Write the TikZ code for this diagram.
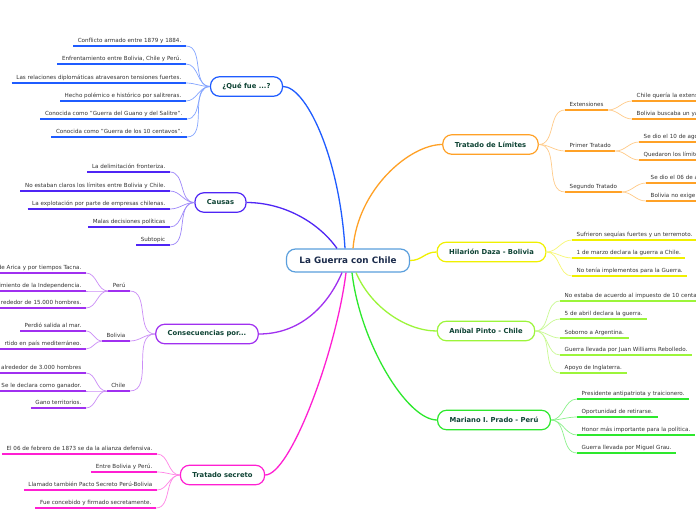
\documentclass[tikz,border=0pt]{standalone}
\usepackage{fontspec}
\setmainfont{DejaVu Sans}
\usetikzlibrary{positioning}

\definecolor{cMain}{HTML}{5A9FDD}
\definecolor{cQue}{HTML}{1F5CFF}
\definecolor{cCau}{HTML}{4F25F5}
\definecolor{cCon}{HTML}{A030F0}
\definecolor{cSec}{HTML}{FF1FD2}
\definecolor{cLim}{HTML}{FFA126}
\definecolor{cHil}{HTML}{F0F000}
\definecolor{cAni}{HTML}{9CF53A}
\definecolor{cMar}{HTML}{2DE82D}
\definecolor{txtMain}{HTML}{1B2B4B}
\definecolor{txtBranch}{HTML}{0E4334}
\definecolor{txtLeaf}{HTML}{333333}

\begin{document}
\begin{tikzpicture}[
            x=1pt, y=-1pt,
            central/.style={rectangle, rounded corners=9pt, draw=cMain, line width=1.2pt, fill=white, minimum height=23pt, inner xsep=13pt, font=\fontsize{8.8}{10}\selectfont\bfseries, text=txtMain},
            branch/.style={rectangle, rounded corners=9pt, draw=#1, line width=1.2pt, fill=white, minimum height=19.5pt, inner xsep=12pt, font=\fontsize{6.8}{8}\selectfont\bfseries, text=txtBranch},
            leaf/.style={inner xsep=4.5pt, inner ysep=2pt, text height=4pt, text depth=1.3pt, font=\fontsize{5.6}{6.7}\selectfont, text=txtLeaf},
            cutl/.style={leaf, text width=100pt, align=right},
            cutr/.style={leaf, text width=170pt, align=left},
            ul/.style={draw=#1, line width=1.6pt},
            link/.style={draw=#1, line width=1.3pt},
            twig/.style={draw=#1!55, line width=0.7pt}
        ]
        \useasboundingbox (0,0) rectangle (696,520);
        \fill[white] (0,0) rectangle (696,520);

        %central topic
        \node[central]          (main)  at (348,260.5)  {La Guerra con Chile};

        %main topics
        \node[branch=cQue]      (que)   at (246.5,86.5) {¿Qué fue ...?};
        \node[branch=cCau]      (cau)   at (220.5,202.5) {Causas};
        \node[branch=cCon]      (con)   at (207,334)    {Consecuencias por...};
        \node[branch=cSec]      (sec)   at (222.5,475)  {Tratado secreto};
        \node[branch=cLim]      (lim)   at (490.5,144.5) {Tratado de Límites};
        \node[branch=cHil]      (hil)   at (491.5,252)  {Hilarión Daza - Bolivia};
        \node[branch=cAni]      (ani)   at (486,331)    {Aníbal Pinto - Chile};
        \node[branch=cMar]      (mar)   at (494,420)    {Mariano I. Prado - Perú};

        %main links
        \draw[link=cQue]    ([xshift=-3pt]main.north) .. controls +(-6,-95) and +(22,0) .. (que.east);
        \draw[link=cCau]    ([xshift=-11pt]main.north) .. controls +(-20,-28) and +(35,0) .. (cau.east);
        \draw[link=cLim]    ([xshift=5pt]main.north) .. controls +(5,-60) and +(-32,0) .. (lim.west);
        \draw[link=cHil]    (main.east) .. controls +(12,0) and +(-12,0) .. (hil.west);
        \draw[link=cAni]    ([xshift=8pt]main.south) .. controls +(15,35) and +(-30,0) .. (ani.west);
        \draw[link=cMar]    ([xshift=4pt]main.south) .. controls +(8,70) and +(-30,0) .. (mar.west);
        \draw[link=cCon]    ([xshift=-6pt]main.south) .. controls +(-15,35) and +(40,0) .. (con.east);
        \draw[link=cSec]    ([xshift=-2pt]main.south) .. controls +(-10,80) and +(25,0) .. (sec.east);

        %que fue
        \node[leaf, anchor=south east] (q1) at (186,46)  {Conflicto armado entre 1879 y 1884.};
        \node[leaf, anchor=south east] (q2) at (186,64)  {Enfrentamiento entre Bolivia, Chile y Perú.};
        \node[leaf, anchor=south east] (q3) at (186,83)  {Las relaciones diplomáticas atravesaron tensiones fuertes.};
        \node[leaf, anchor=south east] (q4) at (186,101) {Hecho polémico e histórico por salitreras.};
        \node[leaf, anchor=south east] (q5) at (187,119) {Conocida como "Guerra del Guano y del Salitre".};
        \node[leaf, anchor=south east] (q6) at (187,137) {Conocida como "Guerra de los 10 centavos".};
        \foreach \i in {1,...,6} {
            \draw[twig=cQue] (que.west) to[out=180,in=0] (q\i.south east);
            \draw[ul=cQue] (q\i.south west) -- (q\i.south east);
        }

        %causas
        \node[leaf, anchor=south east] (c1) at (170,172) {La delimitación fronteriza.};
        \node[leaf, anchor=south east] (c2) at (170,191) {No estaban claros los límites entre Bolivia y Chile.};
        \node[leaf, anchor=south east] (c3) at (170,209) {La explotación por parte de empresas chilenas.};
        \node[leaf, anchor=south east] (c4) at (170,227) {Malas decisiones políticas};
        \node[leaf, anchor=south east] (c5) at (170,245) {Subtopic};
        \foreach \i in {1,...,5} {
            \draw[twig=cCau] (cau.west) to[out=180,in=0] (c\i.south east);
            \draw[ul=cCau] (c\i.south west) -- (c\i.south east);
        }

        %consecuencias
        \node[leaf, anchor=south east] (peru) at (130,291) {Perú};
        \node[leaf, anchor=south east] (bol)  at (130,341) {Bolivia};
        \node[leaf, anchor=south east] (chi)  at (130,391) {Chile};
        \node[cutl, anchor=south east] (p1) at (86,273) {de Arica y por tiempos Tacna.};
        \node[cutl, anchor=south east] (p2) at (86,291) {imiento de la Independencia.};
        \node[cutl, anchor=south east] (p3) at (86,308) {rededor de 15.000 hombres.};
        \node[leaf, anchor=south east] (b1) at (86,331) {Perdió salida al mar.};
        \node[cutl, anchor=south east] (b2) at (86,349) {rtido en país mediterráneo.};
        \node[cutl, anchor=south east] (h1) at (86,373) {alrededor de 3.000 hombres};
        \node[leaf, anchor=south east] (h2) at (86,391) {Se le declara como ganador.};
        \node[leaf, anchor=south east] (h3) at (86,408) {Gano territorios.};
        \foreach \n in {peru,bol,chi} {
            \draw[twig=cCon] (con.west) to[out=180,in=0] (\n.south east);
            \draw[ul=cCon] (\n.south west) -- (\n.south east);
        }
        \foreach \n/\m in {peru/p1,peru/p2,peru/p3,bol/b1,bol/b2,chi/h1,chi/h2,chi/h3} {
            \draw[twig=cCon] (\n.south west) to[out=180,in=0] (\m.south east);
            \draw[ul=cCon] (\m.south west) -- (\m.south east);
        }

        %tratado secreto
        \node[leaf, anchor=south east] (s1) at (157,454) {El 06 de febrero de 1873 se da la alianza defensiva.};
        \node[leaf, anchor=south east] (s2) at (157,472) {Entre Bolivia y Perú.};
        \node[leaf, anchor=south east] (s3) at (157,490) {Llamado también Pacto Secreto Perú-Bolivia};
        \node[leaf, anchor=south east] (s4) at (156,508) {Fue concebido y firmado secretamente.};
        \foreach \i in {1,...,4} {
            \draw[twig=cSec] (sec.west) to[out=180,in=0] (s\i.south east);
            \draw[ul=cSec] (s\i.south west) -- (s\i.south east);
        }

        %tratado de limites
        \node[leaf, anchor=south west] (ext) at (565,110) {Extensiones};
        \node[leaf, anchor=south west] (pri) at (565,151) {Primer Tratado};
        \node[leaf, anchor=south west] (seg) at (565,192) {Segundo Tratado};
        \node[cutr, anchor=south west] (e1) at (632,101) {Chile quería la extensi};
        \node[cutr, anchor=south west] (e2) at (632,119) {Bolivia buscaba un ya};
        \node[cutr, anchor=south west] (r1) at (639,142) {Se dio el 10 de ago};
        \node[cutr, anchor=south west] (r2) at (639,160) {Quedaron los límite};
        \node[cutr, anchor=south west] (g1) at (646,183) {Se dio el 06 de a};
        \node[cutr, anchor=south west] (g2) at (646,201) {Bolivia no exige};
        \foreach \n in {ext,pri,seg} {
            \draw[twig=cLim] (lim.east) to[out=0,in=180] (\n.south west);
            \draw[ul=cLim] (\n.south west) -- (\n.south east);
        }
        \foreach \n/\m in {ext/e1,ext/e2,pri/r1,pri/r2,seg/g1,seg/g2} {
            \draw[twig=cLim] (\n.south east) to[out=0,in=180] (\m.south west);
            \draw[ul=cLim] (\m.south west) -- (\m.south east);
        }

        %hilarion daza
        \node[leaf, anchor=south west] (d1) at (572,240) {Sufrieron sequías fuertes y un terremoto.};
        \node[leaf, anchor=south west] (d2) at (572,258) {1 de marzo declara la guerra a Chile.};
        \node[leaf, anchor=south west] (d3) at (572,276) {No tenía implementos para la Guerra.};
        \foreach \i in {1,...,3} {
            \draw[twig=cHil] (hil.east) to[out=0,in=180] (d\i.south west);
            \draw[ul=cHil] (d\i.south west) -- (d\i.south east);
        }

        %anibal pinto
        \node[cutr, anchor=south west] (a1) at (560,301) {No estaba de acuerdo al impuesto de 10 centa};
        \node[leaf, anchor=south west] (a2) at (560,319) {5 de abril declara la guerra.};
        \node[leaf, anchor=south west] (a3) at (560,338) {Soborno a Argentina.};
        \node[leaf, anchor=south west] (a4) at (560,355) {Guerra llevada por Juan Williams Rebolledo.};
        \node[leaf, anchor=south west] (a5) at (560,373) {Apoyo de Inglaterra.};
        \foreach \i in {1,...,5} {
            \draw[twig=cAni] (ani.east) to[out=0,in=180] (a\i.south west);
            \draw[ul=cAni] (a\i.south west) -- (a\i.south east);
        }

        %mariano prado
        \node[leaf, anchor=south west] (m1) at (577,399) {Presidente antipatriota y traicionero.};
        \node[leaf, anchor=south west] (m2) at (577,417) {Oportunidad de retirarse.};
        \node[leaf, anchor=south west] (m3) at (577,435) {Honor más importante para la política.};
        \node[leaf, anchor=south west] (m4) at (577,453) {Guerra llevada por Miguel Grau.};
        \foreach \i in {1,...,4} {
            \draw[twig=cMar] (mar.east) to[out=0,in=180] (m\i.south west);
            \draw[ul=cMar] (m\i.south west) -- (m\i.south east);
        }

        \end{tikzpicture}
\end{document}
